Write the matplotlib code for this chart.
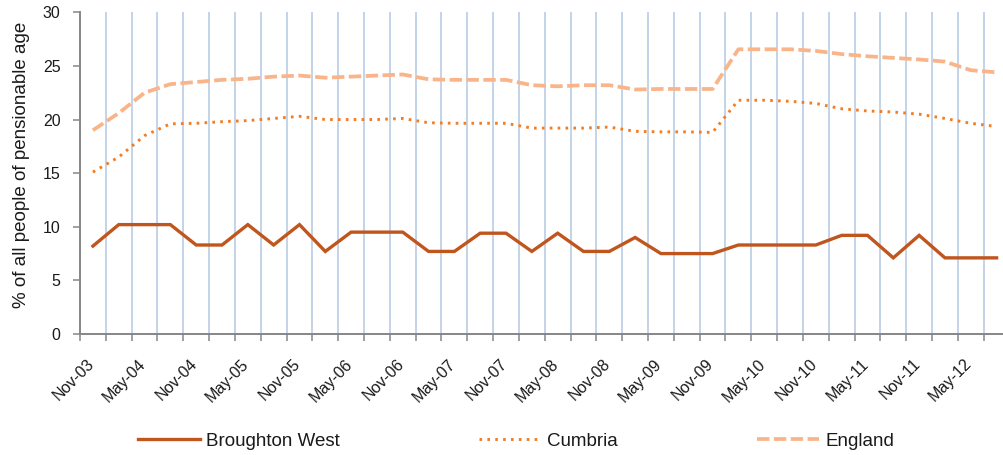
import numpy as np
import matplotlib
matplotlib.use('Agg')
import matplotlib.pyplot as plt
import matplotlib.transforms as mtransforms

# quarterly categories
quarters = ['Nov-03', 'Feb-04', 'May-04', 'Aug-04', 'Nov-04', 'Feb-05', 'May-05', 'Aug-05',
            'Nov-05', 'Feb-06', 'May-06', 'Aug-06', 'Nov-06', 'Feb-07', 'May-07', 'Aug-07',
            'Nov-07', 'Feb-08', 'May-08', 'Aug-08', 'Nov-08', 'Feb-09', 'May-09', 'Aug-09',
            'Nov-09', 'Feb-10', 'May-10', 'Aug-10', 'Nov-10', 'Feb-11', 'May-11', 'Aug-11',
            'Nov-11', 'Feb-12', 'May-12', 'Aug-12']

broughton_west = [8.2, 10.2, 10.2, 10.2, 8.3, 8.3, 10.2, 8.3, 10.2, 7.7, 9.5, 9.5,
                  9.5, 7.7, 7.7, 9.4, 9.4, 7.7, 9.4, 7.7, 7.7, 9.0, 7.5, 7.5,
                  7.5, 8.3, 8.3, 8.3, 8.3, 9.2, 9.2, 7.1, 9.2, 7.1, 7.1, 7.1]
cumbria = [15.1, 16.5, 18.5, 19.6, 19.65, 19.8, 19.9, 20.1, 20.3, 20.0, 20.0, 20.0,
           20.1, 19.7, 19.65, 19.65, 19.65, 19.2, 19.2, 19.2, 19.3, 18.9, 18.85, 18.85,
           18.8, 21.8, 21.8, 21.7, 21.5, 21.0, 20.8, 20.7, 20.5, 20.1, 19.65, 19.35]
england = [19.0, 20.6, 22.5, 23.3, 23.5, 23.7, 23.8, 24.0, 24.1, 23.9, 24.0, 24.1,
           24.2, 23.75, 23.7, 23.7, 23.7, 23.2, 23.1, 23.2, 23.2, 22.8, 22.85, 22.85,
           22.85, 26.55, 26.55, 26.55, 26.4, 26.1, 25.9, 25.75, 25.6, 25.4, 24.6, 24.4]

plt.rcParams['font.family'] = ['Liberation Sans', 'DejaVu Sans']
txt = '#1a1a1a'
axis_grey = '#868686'

W, H = 1004, 455
fig = plt.figure(figsize=(W / 100, H / 100), dpi=100)
# plot area runs a little past the right edge, as in the original
ax = fig.add_axes([80 / W, (H - 334) / H, 929.5 / W, 321.7 / H])

x = np.arange(len(quarters))
ax.plot(x, broughton_west, color='#C0561D', lw=2.4, solid_joinstyle='miter', zorder=4)
ax.plot(x, cumbria, color='#F47C22', lw=2.1, linestyle=(0, (0.9, 1.8)), zorder=3)
ax.plot(x, england, color='#F9B48A', lw=2.7, linestyle=(0, (3.3, 1.2)), zorder=3)

ax.set_xlim(-0.5, len(quarters) - 0.5)
ax.set_ylim(0, 30)
ax.set_yticks(range(0, 31, 5))

# boundaries carry the ticks and the vertical grid
bounds = np.arange(-0.5, len(quarters), 1.0)
ax.set_xticks(bounds)
ax.set_xticklabels([])
for b in bounds[1:-1]:
    ax.axvline(b, color='#B9CDE5', lw=1.2, zorder=1)

ax.set_xticks(x[::2], minor=True)
ax.set_xticklabels(quarters[::2], minor=True, rotation=45, ha='right',
                   fontsize=11.5, color=txt)
ax.tick_params(axis='x', which='minor', length=0, pad=16)
ax.tick_params(axis='x', which='major', length=5, width=1.1, color=axis_grey, direction='out')
ax.tick_params(axis='y', length=5, width=1.1, color=axis_grey, pad=9, labelsize=11.5,
               labelcolor=txt)
offset = mtransforms.ScaledTranslation(4 / 100, 0, fig.dpi_scale_trans)
for lab in ax.get_xticklabels(minor=True):
    lab.set_transform(lab.get_transform() + offset)

for s in ['top', 'right']:
    ax.spines[s].set_visible(False)
for s in ['left', 'bottom']:
    ax.spines[s].set_color(axis_grey)
    ax.spines[s].set_linewidth(1.4)

ax.set_ylabel('% of all people of pensionable age', fontsize=13.5, color=txt)
ax.yaxis.set_label_coords(-0.054, 0.527)

handles = ax.get_lines()[:3]
fig.legend(handles, ['Broughton West', 'Cumbria', 'England'], loc='center',
           bbox_to_anchor=(516 / W, (H - 441) / H), ncol=3, frameon=False,
           fontsize=13.5, handlelength=3.3, handletextpad=0.35, columnspacing=7.4,
           labelcolor=txt)

plt.savefig('out.png', dpi=100)
